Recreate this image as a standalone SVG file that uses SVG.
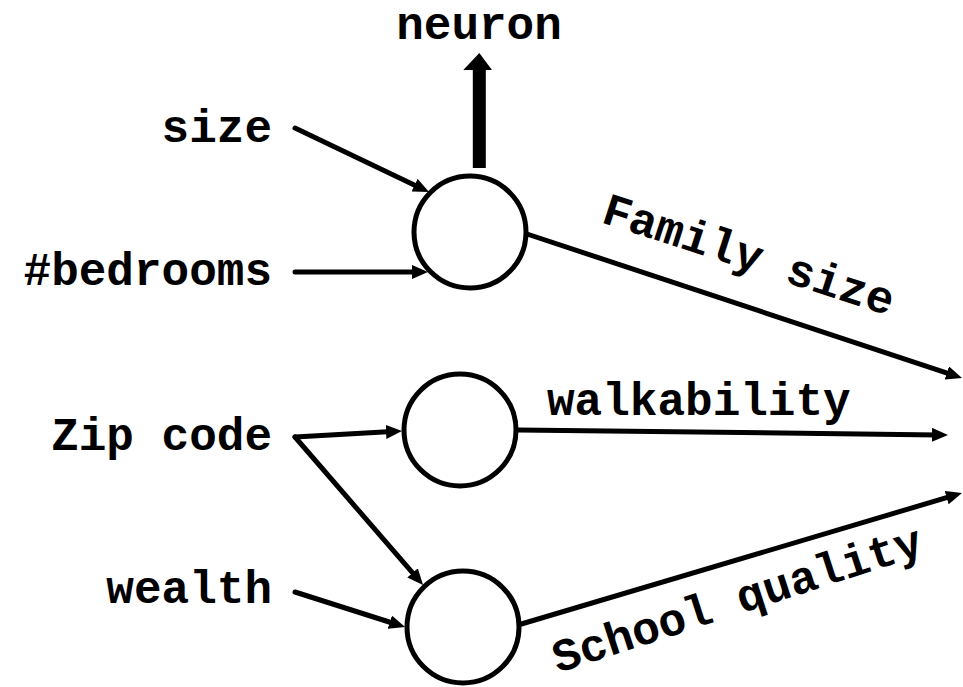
<svg xmlns="http://www.w3.org/2000/svg" width="963" height="687" viewBox="0 0 963 687">
<style>
  text { font-family: "Liberation Mono", "Courier New", monospace; font-weight: bold; font-size: 46px; fill: #000; }
  .in { text-anchor: end; }
  .conn line { stroke: #000; stroke-width: 5; stroke-linecap: round; marker-end: url(#ah); }
  .node circle { fill: #fff; stroke: #000; stroke-width: 5; }
</style>
<defs>
  <marker id="ah" markerUnits="userSpaceOnUse" markerWidth="16" markerHeight="14" refX="6" refY="7" orient="auto">
    <path d="M0,0 L16,7 L0,14 z" fill="#000"/>
  </marker>
</defs>
<rect width="963" height="687" fill="#fff"/>

<g id="inputs">
  <g id="in-size"><text class="in" x="272" y="142">size</text></g>
  <g id="in-bedrooms"><text class="in" x="272" y="285">#bedrooms</text></g>
  <g id="in-zip"><text class="in" x="272" y="450">Zip code</text></g>
  <g id="in-wealth"><text class="in" x="272" y="603">wealth</text></g>
</g>

<g id="connectors" class="conn">
  <line x1="295" y1="128" x2="420" y2="187.7"/>
  <line x1="295" y1="272" x2="418" y2="272"/>
  <line x1="295" y1="437" x2="392" y2="431.6"/>
  <line x1="295" y1="437" x2="416.5" y2="577.4"/>
  <line x1="295" y1="592" x2="395.5" y2="624"/>
  <line x1="527" y1="234" x2="952.5" y2="374.9"/>
  <line x1="518" y1="430" x2="938" y2="434.9"/>
  <line x1="518" y1="625" x2="952.4" y2="495.9"/>
</g>

<g id="neuron-label">
  <rect x="472.8" y="68" width="13" height="100" fill="#000"/>
  <polygon points="463.3,70 479.3,53 492,70" fill="#000"/>
  <text x="479" y="39" text-anchor="middle">neuron</text>
</g>

<g id="node-family" class="node"><circle cx="470" cy="232" r="56"/></g>
<g id="node-walk" class="node"><circle cx="460" cy="430" r="56"/></g>
<g id="node-school" class="node"><circle cx="463" cy="627" r="56"/></g>

<g id="edge-labels">
  <text transform="translate(558,673) rotate(-18)">School quality</text>
  <text transform="translate(600,222) rotate(18)">Family size</text>
  <text x="547" y="415">walkability</text>
</g>
</svg>
